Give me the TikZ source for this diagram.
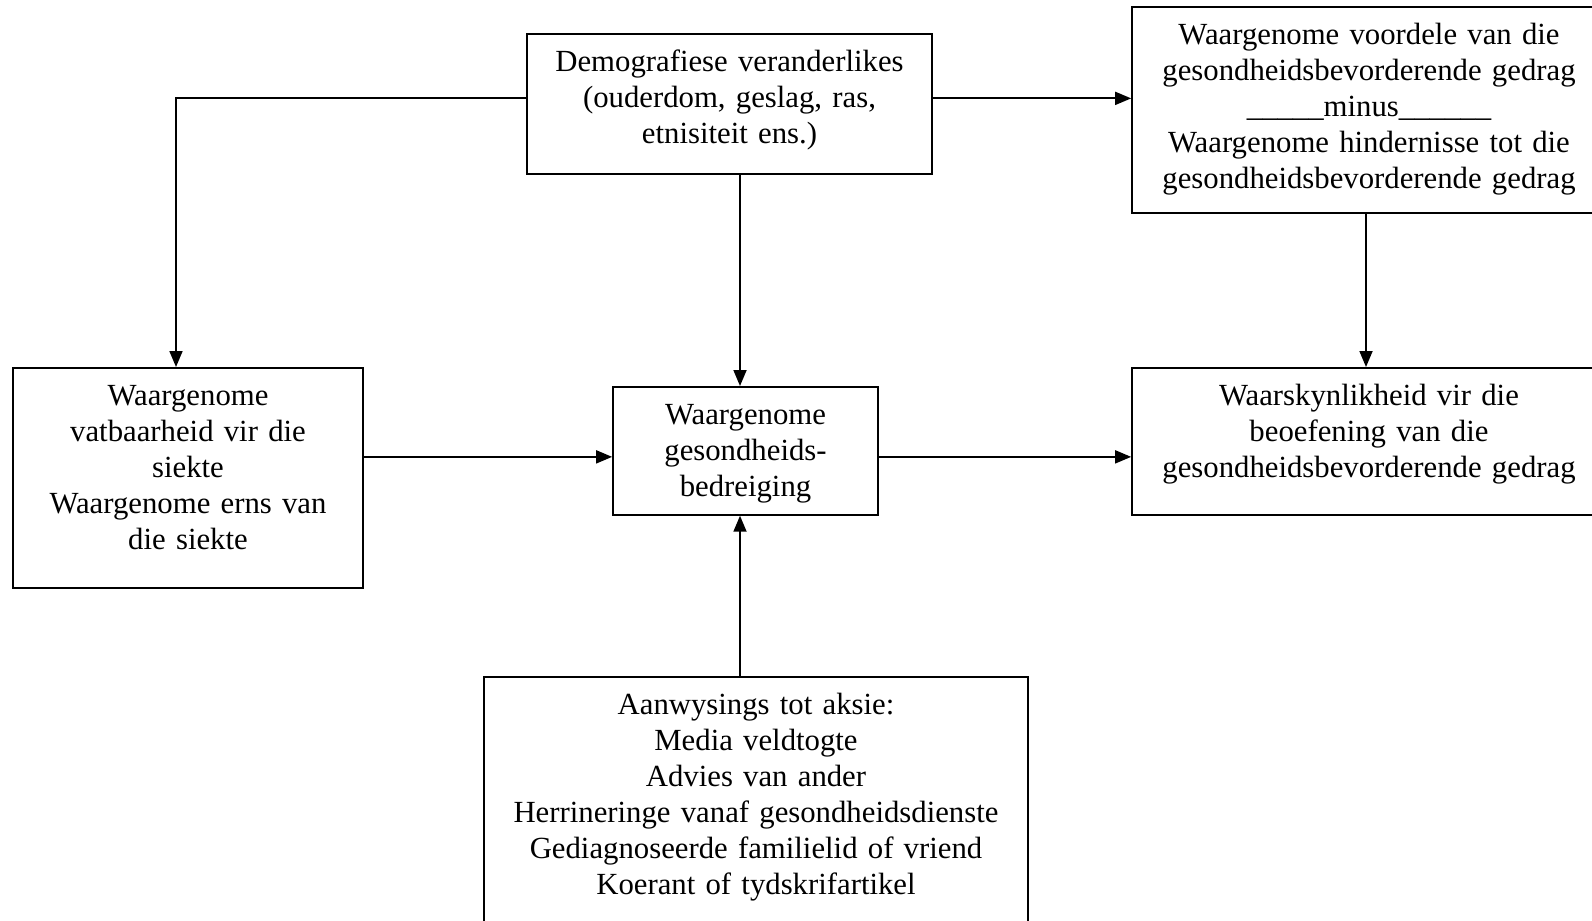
\documentclass[tikz,border=0pt]{standalone}
\usepackage{fontspec}
\setmainfont{Liberation Serif}
\usetikzlibrary{arrows.meta}

\tikzset{
  box/.style={draw, line width=1pt, anchor=north, align=center,
    inner xsep=0pt, inner ysep=0pt, text height=0.76cm,
    font=\fontsize{17.5}{20.5}\selectfont},
}

\begin{document}
\begin{tikzpicture}[x=0.02cm, y=-0.02cm, line width=1pt,
    >={Triangle[length=0.32cm,width=0.26cm]}]

    \useasboundingbox (0,0) rectangle (1592,920);

    \node[box, text width=8.1cm, text depth=2.04cm] (demo) at (729.5,33)
      {Demografiese veranderlikes\\(ouderdom, geslag, ras,\\etnisiteit ens.)};
    \node[box, text width=9.48cm, text depth=3.36cm] (benefits) at (1369,6)
      {Waargenome voordele van die\\gesondheidsbevorderende gedrag\\\_\_\_\_\_minus\_\_\_\_\_\_\\Waargenome hindernisse tot die\\gesondheidsbevorderende gedrag};
    \node[box, text width=7cm, text depth=3.64cm] (susc) at (188,367)
      {Waargenome\\vatbaarheid vir die\\siekte\\Waargenome erns van\\die siekte};
    \node[box, text width=5.3cm, text depth=1.8cm] (threat) at (745.5,386)
      {Waargenome\\gesondheids-\\bedreiging};
    \node[box, text width=9.48cm, text depth=2.18cm] (likely) at (1369,367)
      {Waarskynlikheid vir die\\beoefening van die\\gesondheidsbevorderende gedrag};
    \node[box, text width=10.88cm, text depth=4.72cm] (cues) at (756,676)
      {Aanwysings tot aksie:\\Media veldtogte\\Advies van ander\\Herrineringe vanaf gesondheidsdienste\\Gediagnoseerde familielid of vriend\\Koerant of tydskrifartikel};

    \draw [->] ([yshift=0.11cm]demo.west) -| ([xshift=-0.24cm]susc.north);
    \draw [->] ([yshift=0.11cm]demo.east) -- ([yshift=0.11cm]demo.east -| benefits.west);
    \draw [->] ([xshift=0.21cm]demo.south) -- ([xshift=0.21cm]demo.south |- threat.north);
    \draw [->] ([yshift=0.42cm]susc.east) -- ([yshift=0.42cm]susc.east -| threat.west);
    \draw [->] ([yshift=-0.12cm]threat.east) -- ([yshift=-0.12cm]threat.east -| likely.west);
    \draw [->] ([xshift=-0.06cm]benefits.south) -- ([xshift=-0.06cm]likely.north);
    \draw [->] ([xshift=-0.32cm]cues.north) -- ([xshift=-0.32cm]cues.north |- threat.south);

  \end{tikzpicture}
\end{document}
